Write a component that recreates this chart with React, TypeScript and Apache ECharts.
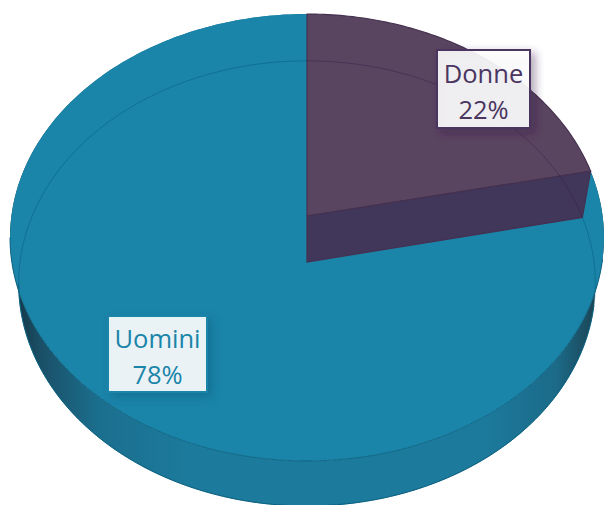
import React, { useEffect, useRef } from "react";
import * as echarts from "echarts";

const categories = ["Donne", "Uomini"];
const shares = [22, 78];
const faceColors = ["#5a4560", "#1a84a9"];
const wallColors = ["#40375b", "#1b7a9c"];
const edgeColors = ["#46304f", "#0f6685"];
const ringColors = ["rgba(60,35,75,0.55)", "rgba(0,85,120,0.42)"];
const textColors = ["#4a3560", "#1a84a9"];
const shadowColors = ["rgba(50,30,70,0.45)", "rgba(0,70,100,0.35)"];
const boxFrames = [
  { x: 437, y: 50, width: 93, height: 78, border: "#4a3560" },
  { x: 108, y: 316, width: 99, height: 76, border: "#1a84a9" },
];

const total = shares.reduce((a, b) => a + b, 0);
const TOP = { cx: 307, cy: 216, a: 221.4, b: 295.6 };
const BASE = { cx: 307, cy: 262, a: 220.5, b: 287 };
const PERSP = 0.0962;

type Ring = typeof TOP;
const rim = (ring: Ring, deg: number): number[] => {
  const t = ((deg - 3 * Math.sin((2 * deg * Math.PI) / 180)) * Math.PI) / 180;
  const w = 1 + PERSP * Math.cos(t);
  return [ring.cx + (ring.b * Math.sin(t)) / w, ring.cy - (ring.a * Math.cos(t)) / w];
};
const arc = (ring: Ring, from: number, to: number): number[][] => {
  const pts: number[][] = [];
  const n = Math.max(2, Math.ceil(Math.abs(to - from)));
  for (let i = 0; i <= n; i++) pts.push(rim(ring, from + ((to - from) * i) / n));
  return pts;
};
const startDeg = (i: number) =>
  (shares.slice(0, i).reduce((a, b) => a + b, 0) / total) * 360;

const sliceRender = (i: number) => (_p: any, api: any) => {
  const span = (api.value(0) / total) * 360;
  const from = startDeg(i);
  const to = from + span;
  const apexTop = [TOP.cx, TOP.cy];
  const apexBase = [BASE.cx, BASE.cy];
  const children: any[] = [];
  if (i === 1) {
    children.push({
      type: "polygon",
      shape: { points: [...arc(TOP, from, to), ...arc(BASE, to, from)] },
      style: {
        fill: new echarts.graphic.LinearGradient(0, 0, 1, 0, [
          { offset: 0, color: "#12303f" },
          { offset: 0.05, color: "#1a4f66" },
          { offset: 0.15, color: "#1b6f8e" },
          { offset: 0.3, color: "#1c7a9c" },
          { offset: 0.8, color: "#1c7a9c" },
          { offset: 0.92, color: "#1b6a88" },
          { offset: 1, color: "#1c3c4a" },
        ]),
      },
    });
  }
  children.push({
    type: "polygon",
    shape: { points: [apexTop, ...arc(TOP, from, to)] },
    style: i === 0
      ? { fill: faceColors[i], stroke: edgeColors[i], lineWidth: 1.2 }
      : { fill: faceColors[i] },
  });
  if (i === 1) {
    children.push({
      type: "polyline",
      shape: { points: arc(TOP, 100, 265) },
      style: { fill: "none", stroke: edgeColors[i], lineWidth: 1 },
    });
    children.push({
      type: "polyline",
      shape: { points: arc(BASE, 100, 265) },
      style: { fill: "none", stroke: edgeColors[i], lineWidth: 1 },
    });
  }
  if (i === 0) {
    children.push({
      type: "polygon",
      shape: { points: [apexTop, rim(TOP, to), rim(BASE, to), apexBase] },
      style: { fill: wallColors[i], stroke: edgeColors[i], lineWidth: 1.2 },
    });
  }
  return { type: "group", children };
};

const ringRender = () => {
  const split = startDeg(1);
  return {
    type: "group",
    children: [
      {
        type: "polyline",
        shape: { points: arc(BASE, 0, split) },
        style: { fill: "none", stroke: ringColors[0], lineWidth: 1 },
      },
      {
        type: "polyline",
        shape: { points: arc(BASE, split, 360) },
        style: { fill: "none", stroke: ringColors[1], lineWidth: 1 },
      },
    ],
  };
};

export default function App() {
  const ref = useRef<HTMLDivElement>(null);
  useEffect(() => {
    document.body.style.margin = "0";
    const chart = echarts.init(ref.current!, null, { renderer: "svg" });
    chart.setOption({
      animation: false,
      backgroundColor: "#ffffff",
      series: [
        { type: "custom", coordinateSystem: "none", name: categories[1], data: [shares[1]], renderItem: sliceRender(1), z: 1 },
        { type: "custom", coordinateSystem: "none", name: categories[0], data: [shares[0]], renderItem: sliceRender(0), z: 2 },
        { type: "custom", coordinateSystem: "none", name: "ring", data: [1], renderItem: ringRender, z: 3, silent: true },
      ],
      graphic: categories.flatMap((name, i) => {
        const f = boxFrames[i];
        return [
          {
            type: "rect",
            z: 10,
            shape: { x: f.x, y: f.y, width: f.width, height: f.height },
            style: {
              fill: "rgba(255,255,255,0.89)",
              stroke: f.border,
              lineWidth: 2,
              shadowBlur: 10,
              shadowColor: shadowColors[i],
              shadowOffsetX: 4,
              shadowOffsetY: 4,
            },
          },
          {
            type: "text",
            z: 11,
            x: f.x + f.width / 2,
            y: f.y + f.height / 2 + 2,
            style: {
              text: `${name}\n${shares[i]}%`,
              fill: textColors[i],
              font: '25.5px "Open Sans"',
              align: "center",
              verticalAlign: "middle",
              lineHeight: 36,
            },
          },
        ];
      }),
    });
    return () => chart.dispose();
  }, []);
  return <div ref={ref} style={{ width: 605, height: 505 }} />;
}
